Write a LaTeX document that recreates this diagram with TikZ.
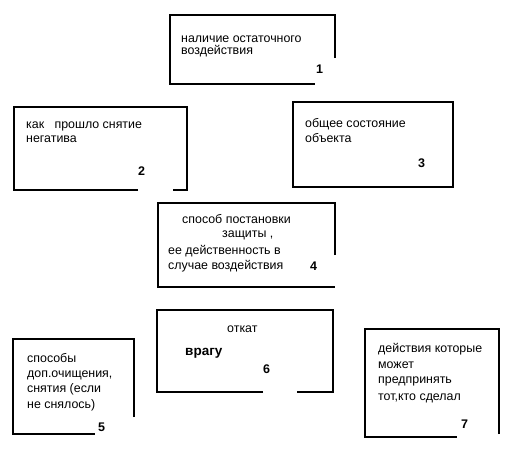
\documentclass[tikz,border=0pt]{standalone}
\usepackage{fontspec}
\setmainfont{Liberation Sans}
\begin{document}
\begin{tikzpicture}[x=1pt,y=-1pt,
  frame/.style={line width=2.6pt,line cap=butt,line join=miter},
  txt/.style={anchor=base west,inner sep=0pt,font=\fontsize{12.4}{14}\selectfont},
  num/.style={anchor=base west,inner sep=0pt,font=\fontsize{12.5}{14}\selectfont\bfseries}]
\useasboundingbox (0,0) rectangle (524,452);
% box 1
\draw[frame] (335,58) -- (335,15) -- (170,15) -- (170,84) -- (315,84);
\node[txt] (t1a) at (181,42) {наличие остаточного};
\node[txt] (t1b) at (181,55) {воздействия};
\node[num] (n1) at (316,73) {1};
% box 2
\draw[frame] (138,190) -- (14,190) -- (14,107) -- (187,107) -- (187,190) -- (173,190);
\node[txt] (t2a) at (26,128) {как\ \ \ прошло снятие};
\node[txt] (t2b) at (26,142) {негатива};
\node[num] (n2) at (138,175) {2};
% box 3
\draw[frame] (293,102) rectangle (453,187);
\node[txt] (t3a) at (305,127) {общее состояние};
\node[txt] (t3b) at (305,142) {объекта};
\node[num] (n3) at (418,167) {3};
% box 4
\draw[frame] (335,255) -- (335,203) -- (158,203) -- (158,287) -- (335,287);
\node[txt] (t4a) at (182,223) {способ постановки};
\node[txt] (t4b) at (222,237) {защиты ,};
\node[txt] (t4c) at (168,254) {ее действенность в};
\node[txt] (t4d) at (168,269) {случае воздействия};
\node[num] (n4) at (310,270) {4};
% box 6
\draw[frame] (263,392) -- (157,392) -- (157,310) -- (333,310) -- (333,392) -- (297,392);
\node[txt] (t6a) at (227,332) {откат};
\node[num,font=\fontsize{13.5}{14}\selectfont\bfseries] (t6b) at (185,355) {врагу};
\node[num] (n6) at (263,373) {6};
% box 5
\draw[frame] (134,417) -- (134,339) -- (13,339) -- (13,434) -- (95,434);
\node[txt] (t5a) at (27,362) {способы};
\node[txt] (t5b) at (27,377) {доп.очищения,};
\node[txt] (t5c) at (27,392) {снятия (если};
\node[txt] (t5d) at (27,408) {не снялось)};
\node[num] (n5) at (98,431) {5};
% box 7
\draw[frame] (499,434) -- (499,329) -- (365,329) -- (365,437) -- (457,437);
\node[txt] (t7a) at (378,352) {действия которые};
\node[txt] (t7b) at (378,368) {может};
\node[txt] (t7c) at (378,383) {предпринять};
\node[txt] (t7d) at (378,400) {тот,кто сделал};
\node[num] (n7) at (461,428) {7};
\end{tikzpicture}
\end{document}
